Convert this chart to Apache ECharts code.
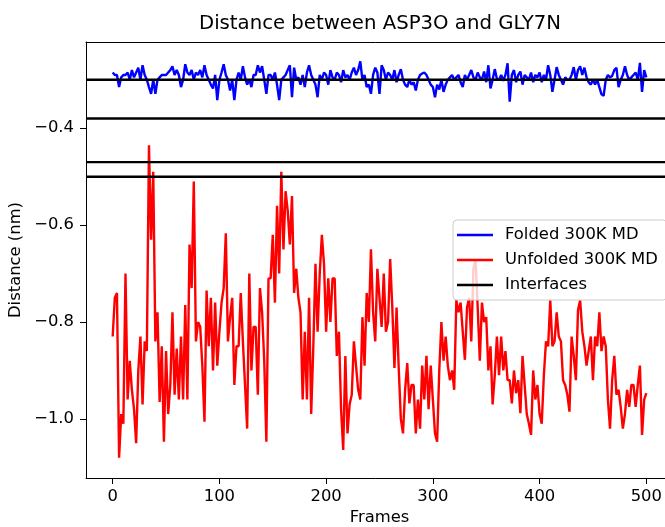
<!DOCTYPE html>
<html><head><meta charset="utf-8">
<script src="https://cdn.jsdelivr.net/npm/echarts@6/dist/echarts.min.js"></script>
<style>html,body{margin:0;padding:0;background:#fff}#c{width:665px;height:527px}</style>
</head><body><div id="c"></div>
<script>
const titleText = 'Distance between ASP3O and GLY7N';
const xName = 'Frames';
const yName = 'Distance (nm)';
const seriesNames = ['Folded 300K MD', 'Unfolded 300K MD', 'Interfaces'];
const xTicks = [0, 100, 200, 300, 400, 500];
const yTicks = [-1.0, -0.8, -0.6, -0.4];
const frameStep = 2;
const xRange = [-25, 525];
const yRange = [-1.122, -0.222];

const folded = [
-0.285,-0.290,-0.290,-0.315,-0.295,-0.290,-0.290,-0.285,-0.300,-0.280,
-0.295,-0.285,-0.275,-0.300,-0.270,-0.290,-0.300,-0.315,-0.329,-0.300,
-0.329,-0.300,-0.295,-0.290,-0.290,-0.290,-0.285,-0.280,-0.272,-0.290,
-0.280,-0.290,-0.315,-0.300,-0.268,-0.285,-0.290,-0.280,-0.300,-0.285,
-0.290,-0.280,-0.295,-0.270,-0.290,-0.300,-0.310,-0.318,-0.290,-0.342,
-0.300,-0.285,-0.268,-0.290,-0.300,-0.322,-0.300,-0.342,-0.300,-0.285,
-0.300,-0.272,-0.295,-0.310,-0.300,-0.315,-0.290,-0.290,-0.270,-0.285,
-0.272,-0.300,-0.329,-0.290,-0.290,-0.300,-0.285,-0.310,-0.342,-0.300,
-0.295,-0.290,-0.280,-0.270,-0.336,-0.275,-0.300,-0.295,-0.310,-0.290,
-0.315,-0.285,-0.270,-0.290,-0.300,-0.310,-0.336,-0.290,-0.300,-0.285,
-0.290,-0.310,-0.280,-0.295,-0.300,-0.285,-0.290,-0.305,-0.280,-0.295,
-0.290,-0.300,-0.285,-0.275,-0.290,-0.280,-0.262,-0.300,-0.290,-0.315,
-0.310,-0.329,-0.290,-0.275,-0.285,-0.329,-0.270,-0.280,-0.300,-0.285,
-0.290,-0.300,-0.280,-0.305,-0.290,-0.278,-0.300,-0.310,-0.315,-0.300,
-0.310,-0.305,-0.322,-0.300,-0.290,-0.287,-0.285,-0.290,-0.300,-0.310,
-0.315,-0.336,-0.310,-0.320,-0.300,-0.325,-0.310,-0.300,-0.295,-0.290,
-0.300,-0.295,-0.290,-0.305,-0.315,-0.290,-0.300,-0.290,-0.280,-0.295,
-0.300,-0.285,-0.295,-0.300,-0.283,-0.305,-0.270,-0.318,-0.300,-0.278,
-0.298,-0.300,-0.290,-0.302,-0.290,-0.266,-0.345,-0.290,-0.280,-0.305,
-0.290,-0.283,-0.310,-0.290,-0.295,-0.300,-0.285,-0.305,-0.290,-0.295,
-0.285,-0.305,-0.290,-0.300,-0.270,-0.290,-0.325,-0.300,-0.274,-0.290,
-0.300,-0.310,-0.295,-0.300,-0.300,-0.290,-0.274,-0.300,-0.280,-0.272,
-0.290,-0.275,-0.295,-0.305,-0.310,-0.300,-0.310,-0.300,-0.315,-0.330,
-0.333,-0.300,-0.290,-0.295,-0.292,-0.280,-0.275,-0.315,-0.300,-0.290,
-0.272,-0.290,-0.300,-0.295,-0.290,-0.285,-0.300,-0.265,-0.325,-0.280,
-0.295
];

const unfolded = [
-0.83,-0.75,-0.74,-1.08,-0.99,-1.01,-0.70,-0.96,-0.88,-0.94,
-0.98,-1.05,-0.90,-0.83,-0.97,-0.84,-0.86,-0.435,-0.63,-0.49,
-0.84,-0.78,-0.965,-0.85,-1.047,-0.86,-0.99,-0.93,-0.78,-0.95,
-0.855,-0.96,-0.83,-0.96,-0.765,-0.96,-0.64,-0.73,-0.51,-0.84,
-0.80,-0.81,-0.89,-1.006,-0.735,-0.85,-0.75,-0.90,-0.76,-0.89,
-0.82,-0.76,-0.73,-0.617,-0.84,-0.79,-0.75,-0.93,-0.85,-0.85,
-0.74,-0.84,-0.93,-1.02,-0.70,-0.90,-0.81,-0.81,-0.95,-0.73,
-0.78,-0.88,-1.047,-0.71,-0.71,-0.62,-0.76,-0.56,-0.70,-0.49,
-0.65,-0.53,-0.57,-0.64,-0.54,-0.74,-0.69,-0.75,-0.78,-0.96,
-0.82,-0.96,-0.75,-0.99,-0.85,-0.68,-0.82,-0.70,-0.62,-0.68,
-0.82,-0.71,-0.80,-0.71,-0.71,-0.87,-0.82,-0.98,-1.064,-0.87,
-1.03,-0.97,-0.95,-0.84,-0.89,-0.94,-0.96,-0.79,-0.89,-0.74,
-0.80,-0.65,-0.78,-0.84,-0.69,-0.75,-0.81,-0.70,-0.82,-0.80,
-0.67,-0.77,-0.895,-0.77,-0.895,-1.00,-1.03,-0.94,-0.885,-0.968,
-0.93,-0.93,-1.03,-0.96,-1.02,-0.89,-0.96,-0.87,-0.98,-0.89,
-0.96,-1.03,-1.047,-0.90,-0.80,-0.88,-0.83,-0.89,-0.92,-0.90,
-0.94,-0.755,-0.78,-0.76,-0.82,-0.878,-0.77,-0.75,-0.84,-0.69,
-0.67,-0.77,-0.88,-0.76,-0.80,-0.79,-0.90,-0.85,-0.97,-0.91,
-0.83,-0.91,-0.83,-0.90,-0.86,-0.92,-0.92,-0.968,-0.90,-0.947,
-0.92,-0.988,-0.87,-0.93,-0.99,-1.01,-1.033,-0.90,-0.96,-0.93,
-0.99,-1.01,-0.91,-0.84,-0.85,-0.755,-0.85,-0.84,-0.78,-0.83,
-0.84,-0.92,-0.93,-0.95,-0.985,-0.83,-0.87,-0.92,-0.775,-0.755,
-0.82,-0.85,-0.89,-0.86,-0.83,-0.92,-0.83,-0.85,-0.78,-0.86,
-0.83,-0.85,-0.96,-1.02,-0.92,-0.87,-0.95,-0.94,-0.975,-1.02,
-0.99,-0.94,-0.975,-0.93,-0.93,-0.975,-0.93,-0.89,-1.033,-0.96,
-0.947
];

const interfaceLevels = [-0.30, -0.38, -0.47, -0.50];

const FONT = 'DejaVu Sans';
const FS = 16.4;
const fmtMinus = v => (v < 0 ? '\u2212' : '') + Math.abs(v).toFixed(1);
const toPairs = arr => arr.map((v, i) => [i * frameStep, v]);

const chart = echarts.init(document.getElementById('c'), null, {renderer: 'canvas'});

const LW = 2.4;
const series = [
  {name: seriesNames[0], type: 'line', data: toPairs(folded), symbol: 'none', showSymbol: false,
   lineStyle: {color: '#0000ff', width: LW}, itemStyle: {color: '#0000ff'}, z: 2},
  {name: seriesNames[1], type: 'line', data: toPairs(unfolded), symbol: 'none', showSymbol: false,
   lineStyle: {color: '#ff0000', width: LW}, itemStyle: {color: '#ff0000'}, z: 3}
];
interfaceLevels.forEach(lv => {
  series.push({name: seriesNames[2], type: 'line', data: [[xRange[0], lv], [xRange[1], lv]],
    symbol: 'none', showSymbol: false, lineStyle: {color: '#000000', width: LW},
    itemStyle: {color: '#000000'}, z: 4});
});

chart.setOption({
  animation: false,
  backgroundColor: '#ffffff',
  textStyle: {fontFamily: FONT},
  title: {text: titleText, left: 375, top: 9, textAlign: 'center',
    textStyle: {fontFamily: FONT, fontSize: 19.7, fontWeight: 'normal', color: '#000'}},
  grid: {left: 86, top: 42, width: 587, height: 436, show: false, containLabel: false, outerBoundsMode: 'none'},
  legend: {
    data: seriesNames, orient: 'vertical', left: 453, top: 220,
    icon: 'rect', itemWidth: 36, itemHeight: 2.4, itemGap: 9,
    backgroundColor: 'rgba(255,255,255,0.8)', borderColor: '#cccccc', borderWidth: 1, borderRadius: 4,
    padding: [7, 9, 7, 4],
    textStyle: {fontFamily: FONT, fontSize: FS, lineHeight: 16, color: '#000', padding: [0, 0, 0, 7]}
  },
  xAxis: [{
    type: 'value', min: xRange[0], max: xRange[1], position: 'bottom',
    name: xName, nameLocation: 'middle', nameGap: 32,
    nameTextStyle: {fontFamily: FONT, fontSize: FS, color: '#000'},
    axisLine: {show: true, onZero: false, lineStyle: {color: '#000', width: 1}},
    axisTick: {show: true, inside: false, length: 6, customValues: xTicks, lineStyle: {color: '#000'}},
    axisLabel: {customValues: xTicks, margin: 11, fontFamily: FONT, fontSize: FS, color: '#000',
      formatter: v => String(v)},
    splitLine: {show: false}
  }, {
    type: 'value', min: xRange[0], max: xRange[1], position: 'top',
    axisLine: {show: true, onZero: false, lineStyle: {color: '#000', width: 1}},
    axisTick: {show: false}, axisLabel: {show: false}, splitLine: {show: false}
  }],
  yAxis: {
    type: 'value', min: yRange[0], max: yRange[1],
    name: yName, nameLocation: 'middle', nameGap: 53, nameRotate: 90,
    nameTextStyle: {fontFamily: FONT, fontSize: FS, color: '#000'},
    axisLine: {show: true, onZero: false, lineStyle: {color: '#000', width: 1}},
    axisTick: {show: true, inside: false, length: 6, customValues: yTicks, lineStyle: {color: '#000'}},
    axisLabel: {customValues: yTicks, margin: 12, fontFamily: FONT, fontSize: FS, color: '#000',
      formatter: v => fmtMinus(v)},
    splitLine: {show: false}
  },
  series: series
});
</script>
</body></html>
